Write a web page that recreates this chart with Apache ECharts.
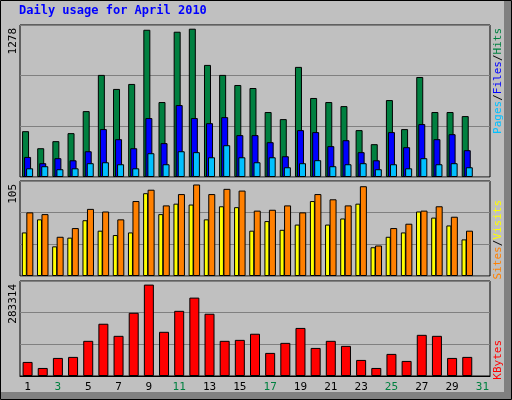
<!DOCTYPE html><html><head><meta charset="utf-8">
<script src="https://cdn.jsdelivr.net/npm/echarts@6/dist/echarts.min.js"></script>
<style>html,body{margin:0;padding:0;background:#c0c0c0}#c{width:512px;height:400px}</style></head><body><div id="c"></div><script>
const days=['1','2','3','4','5','6','7','8','9','10','11','12','13','14','15','16','17','18','19','20','21','22','23','24','25','26','27','28','29','30','31'];
const weekend=['3','4','10','11','17','18','24','25','31'];
const hits=[395,248,309,378,568,880,759,802,1269,646,1252,1278,966,880,793,767,560,499,949,681,646,611,404,283,663,413,862,560,560,525,null];
const files=[173,119,162,144,222,413,326,248,508,292,620,508,464,516,361,361,300,179,404,387,266,317,214,144,387,257,456,326,369,231,null];
const pages=[75,93,67,75,119,127,110,75,205,110,222,214,170,274,170,127,170,84,119,145,93,110,119,67,110,75,162,110,119,84,null];
const visits=[50,65,34,44,64,52,47,50,95,71,83,82,65,80,79,52,63,53,59,86,59,66,83,33,45,50,74,67,58,42,null];
const sites=[73,71,45,55,77,74,65,86,99,81,94,105,94,100,98,75,76,81,73,94,88,81,103,35,55,60,75,80,68,52,null];
const kbytes=[43600,24900,56000,59200,109000,162000,124500,196000,283314,137000,202000,243000,193000,109000,112000,131000,71600,102700,149000,87000,109000,93400,49800,24900,68500,46700,127600,124500,56000,59200,null];
const maxLabels=['1278','105','283314'];
const ch=echarts.init(document.getElementById('c'));
const F='DejaVu Sans Mono';
const grids=[{left:20,right:22,top:25,height:152},{left:20,right:22,top:181,height:95},{left:20,right:22,top:281,height:95}];
const maxes=[1310,109,294500];
const bs={borderColor:'#000',borderWidth:1};
function xa(i){return {type:'category',gridIndex:i,data:days,axisTick:{show:false},axisLine:{show:i==2,lineStyle:{color:'#000'}},
 axisLabel:{show:i==2,fontFamily:F,fontSize:11,margin:6,color:(v)=>weekend.includes(v)?'#008040':'#000'}};}
function ya(i){return {type:'value',gridIndex:i,min:0,max:maxes[i],interval:maxes[i]/3,axisLabel:{show:false},axisLine:{show:false},axisTick:{show:false},splitLine:{lineStyle:{color:'#808080',width:1}}};}
ch.setOption({backgroundColor:'#c0c0c0',animation:false,
grid:grids.map(g=>Object.assign({show:true,backgroundColor:'#c0c0c0',borderColor:'#000',borderWidth:1},g)),
xAxis:[xa(0),xa(1),xa(2)],yAxis:[ya(0),ya(1),ya(2)],
series:[
{type:'bar',xAxisIndex:0,yAxisIndex:0,data:hits,barWidth:7,barGap:'-71%',itemStyle:Object.assign({color:'#008040'},bs)},
{type:'bar',xAxisIndex:0,yAxisIndex:0,data:files,barWidth:7,barGap:'-71%',itemStyle:Object.assign({color:'#0000ff'},bs)},
{type:'bar',xAxisIndex:0,yAxisIndex:0,data:pages,barWidth:7,barGap:'-71%',itemStyle:Object.assign({color:'#00c0ff'},bs)},
{type:'bar',xAxisIndex:1,yAxisIndex:1,data:visits,barWidth:5,barGap:'-10%',itemStyle:Object.assign({color:'#ffff00'},bs)},
{type:'bar',xAxisIndex:1,yAxisIndex:1,data:sites,barWidth:7,barGap:'-10%',itemStyle:Object.assign({color:'#ff8000'},bs)},
{type:'bar',xAxisIndex:2,yAxisIndex:2,data:kbytes,barWidth:10,itemStyle:Object.assign({color:'#ff0000'},bs)}
],
graphic:[
{type:'rect',shape:{x:0.5,y:0.5,width:511,height:399},style:{fill:'none',stroke:'#000',lineWidth:1},silent:true},
{type:'rect',shape:{x:504,y:1,width:7,height:398},style:{fill:'#808080'},silent:true},
{type:'rect',shape:{x:1,y:392,width:510,height:7},style:{fill:'#808080'},silent:true},
{type:'text',x:19,y:5,style:{text:'Daily usage for April 2010',fill:'#0000ff',font:'bold 12px "DejaVu Sans Mono"'}},
{type:'text',x:8,y:28,rotation:Math.PI/2,style:{text:maxLabels[0],fill:'#000',font:'11px "DejaVu Sans Mono"',align:'right',verticalAlign:'top'}},
{type:'text',x:8,y:184,rotation:Math.PI/2,style:{text:maxLabels[1],fill:'#000',font:'11px "DejaVu Sans Mono"',align:'right',verticalAlign:'top'}},
{type:'text',x:8,y:284,rotation:Math.PI/2,style:{text:maxLabels[2],fill:'#000',font:'11px "DejaVu Sans Mono"',align:'right',verticalAlign:'top'}},
{type:'text',x:493,y:28,rotation:Math.PI/2,style:{text:'{p|Pages}{s|/}{f|Files}{s|/}{h|Hits}',align:'right',verticalAlign:'top',font:'11px "DejaVu Sans Mono"',rich:{p:{fill:'#00c0ff',fontFamily:F,fontSize:11},f:{fill:'#0000ff',fontFamily:F,fontSize:11},h:{fill:'#008040',fontFamily:F,fontSize:11},s:{fill:'#000',fontFamily:F,fontSize:11}}}},
{type:'text',x:493,y:200,rotation:Math.PI/2,style:{text:'{a|Sites}{s|/}{b|Visits}',align:'right',verticalAlign:'top',font:'11px "DejaVu Sans Mono"',rich:{a:{fill:'#ff8000',fontFamily:F,fontSize:11},b:{fill:'#ffff00',fontFamily:F,fontSize:11},s:{fill:'#000',fontFamily:F,fontSize:11}}}},
{type:'text',x:493,y:340,rotation:Math.PI/2,style:{text:'KBytes',fill:'#ff0000',align:'right',verticalAlign:'top',font:'11px "DejaVu Sans Mono"'}}
]});
</script></body></html>
